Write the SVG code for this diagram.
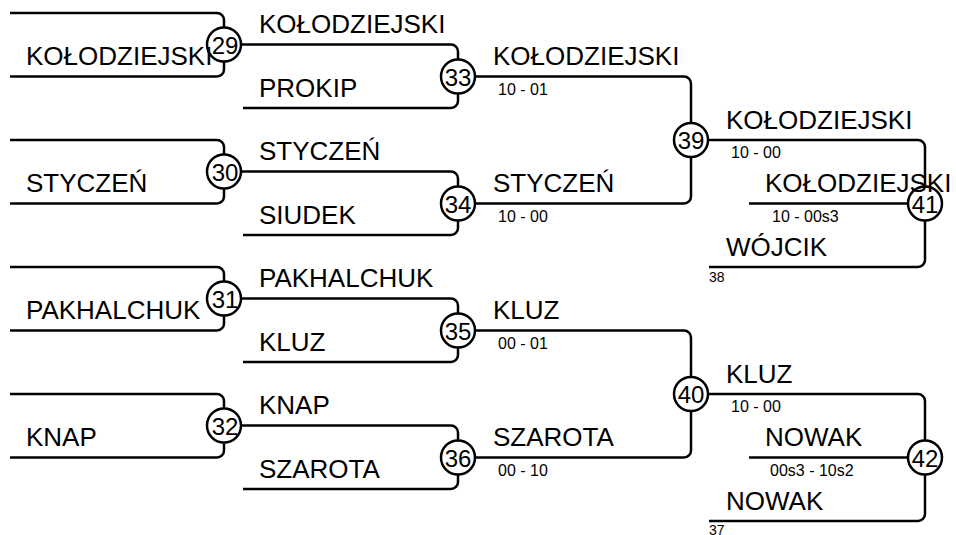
<svg xmlns="http://www.w3.org/2000/svg" width="956" height="535" viewBox="0 0 956 535">
<style>
.ln{fill:none;stroke:#000;stroke-width:2.5}
.nd circle{fill:#fff;stroke:#000;stroke-width:2.5}
.nd text{font-family:"Liberation Sans",Arial,sans-serif;font-size:24px;text-anchor:middle;fill:#000}
.lb{font-family:"Liberation Sans",Arial,sans-serif;font-size:26px;fill:#000}
.sc{font-family:"Liberation Sans",Arial,sans-serif;font-size:16px;fill:#000}
.sm{font-family:"Liberation Sans",Arial,sans-serif;font-size:14px;fill:#000}
</style>
<rect width="956" height="535" fill="#fff"/>
<g id="connectors" class="ln">
<path d="M10,13 H217 A7,7 0 0 1 224,20 V27.5 M224,61.5 V69.5 A7,7 0 0 1 217,76.5 H10"/>
<path d="M10,140 H217 A7,7 0 0 1 224,147 V154.5 M224,188.5 V196.5 A7,7 0 0 1 217,203.5 H10"/>
<path d="M10,267 H217 A7,7 0 0 1 224,274 V281.5 M224,315.5 V323.5 A7,7 0 0 1 217,330.5 H10"/>
<path d="M10,394 H217 A7,7 0 0 1 224,401 V408.5 M224,442.5 V450.5 A7,7 0 0 1 217,457.5 H10"/>
<path d="M241,44.5 H451 A7,7 0 0 1 458,51.5 V59.5 M458,93.5 V101 A7,7 0 0 1 451,108 H243"/>
<path d="M241,171.5 H451 A7,7 0 0 1 458,178.5 V186.5 M458,220.5 V228 A7,7 0 0 1 451,235 H243"/>
<path d="M241,298.5 H451 A7,7 0 0 1 458,305.5 V313.5 M458,347.5 V355 A7,7 0 0 1 451,362 H243"/>
<path d="M241,425.5 H451 A7,7 0 0 1 458,432.5 V440.5 M458,474.5 V482 A7,7 0 0 1 451,489 H243"/>
<path d="M475,76.5 H684 A7,7 0 0 1 691,83.5 V123 M475,203.5 H684 A7,7 0 0 0 691,196.5 V157"/>
<path d="M475,330.5 H684 A7,7 0 0 1 691,337.5 V377 M475,457.5 H684 A7,7 0 0 0 691,450.5 V411"/>
<path d="M708,140 H918 A7,7 0 0 1 925,147 V186.5 M749,203.5 H908 M709,267 H918 A7,7 0 0 0 925,260 V220.5"/>
<path d="M708,394 H918 A7,7 0 0 1 925,401 V440.5 M749,457.5 H908 M709,521 H918 A7,7 0 0 0 925,514 V474.5"/>
</g>
<g id="n29" class="nd"><circle cx="224" cy="44.5" r="17"/><text x="225" y="53.5">29</text></g>
<g id="n30" class="nd"><circle cx="224" cy="171.5" r="17"/><text x="225" y="180.5">30</text></g>
<g id="n31" class="nd"><circle cx="224" cy="298.5" r="17"/><text x="225" y="307.5">31</text></g>
<g id="n32" class="nd"><circle cx="224" cy="425.5" r="17"/><text x="225" y="434.5">32</text></g>
<g id="n33" class="nd"><circle cx="458" cy="76.5" r="17"/><text x="458" y="85.5">33</text></g>
<g id="n34" class="nd"><circle cx="458" cy="203.5" r="17"/><text x="458" y="212.5">34</text></g>
<g id="n35" class="nd"><circle cx="458" cy="330.5" r="17"/><text x="458" y="339.5">35</text></g>
<g id="n36" class="nd"><circle cx="458" cy="457.5" r="17"/><text x="458" y="466.5">36</text></g>
<g id="n39" class="nd"><circle cx="691" cy="140" r="17"/><text x="691" y="149">39</text></g>
<g id="n40" class="nd"><circle cx="691" cy="394" r="17"/><text x="691" y="403">40</text></g>
<g id="n41" class="nd"><circle cx="925" cy="203.5" r="17"/><text x="925" y="212.5">41</text></g>
<g id="n42" class="nd"><circle cx="925" cy="457.5" r="17"/><text x="925" y="466.5">42</text></g>
<g id="labels">
<text class="lb" x="26" y="65">KOŁODZIEJSKI</text>
<text class="lb" x="26" y="192">STYCZEŃ</text>
<text class="lb" x="26" y="319">PAKHALCHUK</text>
<text class="lb" x="26" y="446">KNAP</text>
<text class="lb" x="259" y="33">KOŁODZIEJSKI</text>
<text class="lb" x="259" y="96.5">PROKIP</text>
<text class="lb" x="259" y="160">STYCZEŃ</text>
<text class="lb" x="259" y="223.5">SIUDEK</text>
<text class="lb" x="259" y="287">PAKHALCHUK</text>
<text class="lb" x="259" y="350.5">KLUZ</text>
<text class="lb" x="259" y="414">KNAP</text>
<text class="lb" x="259" y="477.5">SZAROTA</text>
<text class="lb" x="493" y="65">KOŁODZIEJSKI</text>
<text class="sc" x="498" y="94.5">10 - 01</text>
<text class="lb" x="493" y="192">STYCZEŃ</text>
<text class="sc" x="498" y="221.5">10 - 00</text>
<text class="lb" x="493" y="319">KLUZ</text>
<text class="sc" x="498" y="348.5">00 - 01</text>
<text class="lb" x="493" y="446">SZAROTA</text>
<text class="sc" x="498" y="475.5">00 - 10</text>
<text class="lb" x="726" y="128.5">KOŁODZIEJSKI</text>
<text class="sc" x="731" y="158">10 - 00</text>
<text class="lb" x="765" y="192">KOŁODZIEJSKI</text>
<text class="sc" x="772" y="222">10 - 00s3</text>
<text class="lb" x="726" y="255.5">WÓJCIK</text>
<text class="sm" x="709" y="282">38</text>
<text class="lb" x="726" y="382.5">KLUZ</text>
<text class="sc" x="731" y="412">10 - 00</text>
<text class="lb" x="765" y="446">NOWAK</text>
<text class="sc" x="770" y="476">00s3 - 10s2</text>
<text class="lb" x="726" y="509.5">NOWAK</text>
<text class="sm" x="709" y="535">37</text>
</g>
</svg>
